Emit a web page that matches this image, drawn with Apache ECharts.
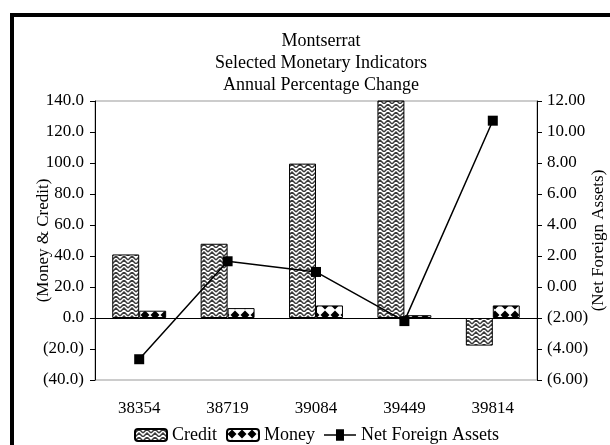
<!DOCTYPE html>
<html>
<head>
<meta charset="utf-8">
<script src="https://cdn.jsdelivr.net/npm/echarts@6/dist/echarts.min.js"></script>
<style>
  html, body { margin: 0; padding: 0; background: #fff; }
  #chart { width: 610px; height: 445px; }
</style>
</head>
<body>
<div id="chart"></div>
<script>
// Categories and series values
const categories = ['38354', '38719', '39084', '39449', '39814'];
const credit = [41.0, 47.9, 99.6, 155.0, -17.8];
const money = [4.7, 6.4, 8.1, 1.8, 8.1];
const netForeignAssets = [-4.66, 1.66, 0.97, -2.2, 10.73];
const titleLines = ['Montserrat', 'Selected Monetary Indicators', 'Annual Percentage Change'];

const FONT = '"Liberation Serif", "Times New Roman", serif';

// Herringbone-like hatch used for the Credit bars
function creditPattern() {
  const c = document.createElement('canvas');
  c.width = 8; c.height = 8;
  const g = c.getContext('2d');
  g.fillStyle = '#fff';
  g.fillRect(0, 0, 8, 8);
  g.strokeStyle = '#3a3a3a';
  g.lineWidth = 1.5;
  g.beginPath();
  g.moveTo(0, 4); g.lineTo(4, 0); g.lineTo(8, 4);
  g.moveTo(0, 8); g.lineTo(4, 4); g.lineTo(8, 8);
  g.stroke();
  return c;
}

// Diamond tile used for the Money bars
function moneyPattern() {
  const c = document.createElement('canvas');
  c.width = 10; c.height = 10;
  const g = c.getContext('2d');
  g.fillStyle = '#fff';
  g.fillRect(0, 0, 10, 10);
  g.fillStyle = '#000';
  g.beginPath();
  g.moveTo(5, 0.5); g.lineTo(9.5, 5); g.lineTo(5, 9.5); g.lineTo(0.5, 5);
  g.closePath();
  g.fill();
  return c;
}

function paren(v, d) {
  const s = Math.abs(v).toFixed(d);
  return v < 0 ? '(' + s + ')' : s;
}

const chart = echarts.init(document.getElementById('chart'), null, { renderer: 'canvas' });

const axisText = { fontFamily: FONT, fontSize: 17, color: '#000' };

chart.setOption({
  animation: false,
  backgroundColor: '#fff',
  graphic: [{
    type: 'rect',
    shape: { x: 12, y: 15, width: 620, height: 450 },
    style: { fill: 'none', stroke: '#000', lineWidth: 4 },
    silent: true
  }],
  title: {
    text: titleLines.join('\n'),
    left: 316,
    top: 25,
    textAlign: 'center',
    textStyle: { fontFamily: FONT, fontSize: 18, fontWeight: 'normal', color: '#000', lineHeight: 22 }
  },
  grid: {
    left: 95, top: 101, width: 442, height: 279,
    outerBoundsMode: 'none',
    containLabel: false,
    show: true, borderColor: '#999', borderWidth: 1, backgroundColor: 'transparent'
  },
  legend: {
    left: 129,
    top: 421,
    itemWidth: 32,
    itemHeight: 12,
    itemGap: 9,
    textStyle: { fontFamily: FONT, fontSize: 18, color: '#000' },
    data: [
      { name: 'Credit' },
      { name: 'Money' },
      { name: 'Net Foreign Assets', icon: 'path://M0,5 L12,5 L12,0 L20,0 L20,5 L32,5 L32,6.4 L20,6.4 L20,11.4 L12,11.4 L12,6.4 L0,6.4 Z' }
    ]
  },
  xAxis: {
    type: 'category',
    data: categories,
    axisLine: { show: false },
    axisTick: { show: false },
    axisLabel: Object.assign({ margin: 20 }, axisText),
    splitLine: { show: false }
  },
  yAxis: [{
    type: 'value',
    min: -40, max: 140, interval: 20,
    position: 'left',
    name: '(Money & Credit)',
    nameLocation: 'middle',
    nameGap: 43,
    nameRotate: 90,
    nameMoveOverlap: false,
    nameTextStyle: axisText,
    axisLine: { show: true, lineStyle: { color: '#000', width: 1 } },
    axisTick: { show: true, length: 5, lineStyle: { color: '#000' } },
    axisLabel: Object.assign({ margin: 11, formatter: v => paren(v, 1) }, axisText),
    splitLine: { show: false }
  }, {
    type: 'value',
    min: -6, max: 12, interval: 2,
    position: 'right',
    name: '(Net Foreign Assets)',
    nameLocation: 'middle',
    nameGap: 53,
    nameRotate: 90,
    nameMoveOverlap: false,
    nameTextStyle: axisText,
    axisLine: { show: true, lineStyle: { color: '#000', width: 1 } },
    axisTick: { show: true, length: 5, lineStyle: { color: '#000' } },
    axisLabel: Object.assign({ margin: 10, formatter: v => paren(v, 2) }, axisText),
    splitLine: { show: false }
  }],
  series: [{
    name: 'Credit',
    type: 'bar',
    yAxisIndex: 0,
    data: credit,
    barGap: '0%',
    barCategoryGap: '39%',
    itemStyle: { color: { image: creditPattern(), repeat: 'repeat' }, borderColor: '#000', borderWidth: 1 },
    markLine: {
      silent: true,
      symbol: 'none',
      label: { show: false },
      lineStyle: { color: '#000', width: 1, type: 'solid' },
      data: [{ yAxis: 0 }]
    }
  }, {
    name: 'Money',
    type: 'bar',
    yAxisIndex: 0,
    data: money,
    itemStyle: { color: { image: moneyPattern(), repeat: 'repeat' }, borderColor: '#000', borderWidth: 1 }
  }, {
    name: 'Net Foreign Assets',
    type: 'line',
    yAxisIndex: 1,
    data: netForeignAssets,
    symbol: 'rect',
    symbolSize: 10,
    itemStyle: { color: '#000' },
    lineStyle: { color: '#000', width: 1.5 },
    z: 5
  }]
});
</script>
</body>
</html>
